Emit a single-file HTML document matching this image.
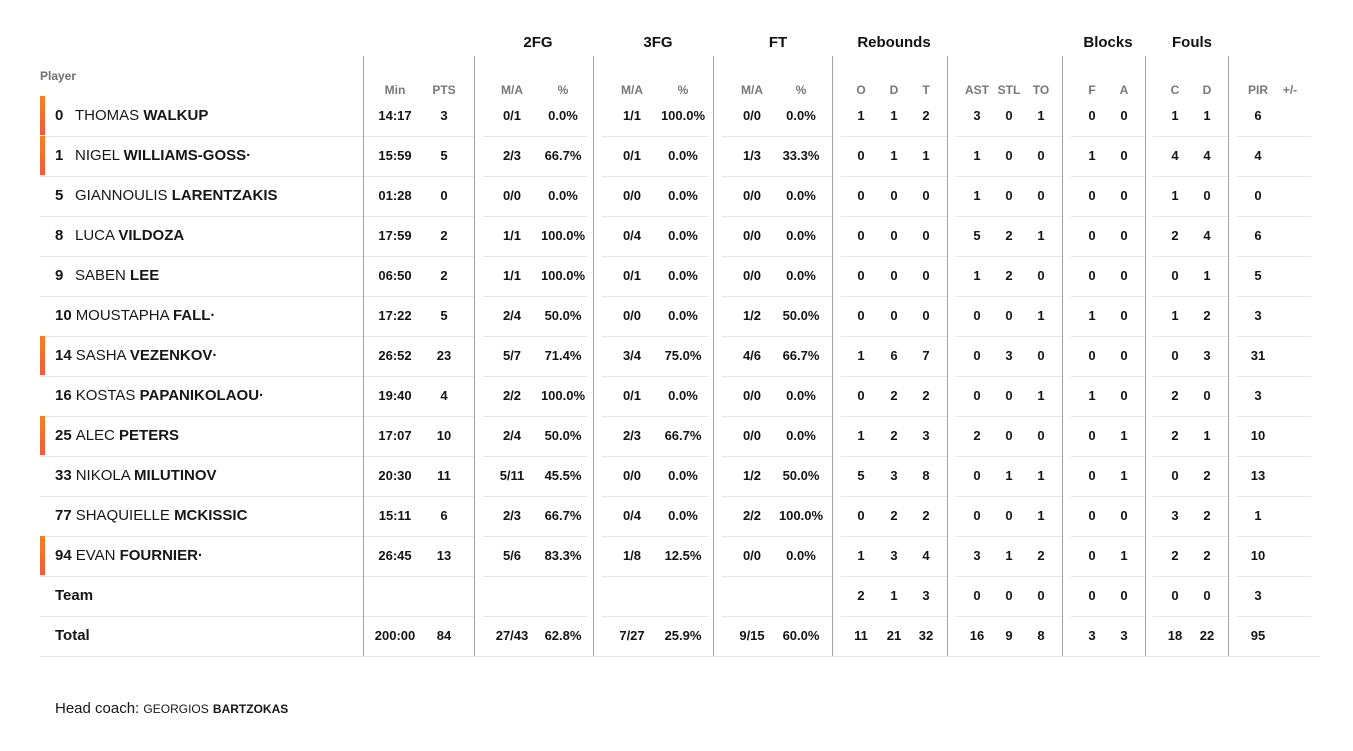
<!DOCTYPE html>
<html><head><meta charset="utf-8">
<style>
html,body{margin:0;padding:0;background:#fff;}
body{width:1353px;height:751px;position:relative;overflow:hidden;font-family:"Liberation Sans",Arial,sans-serif;color:#141414;}
.t{position:absolute;font-weight:bold;font-size:15px;line-height:20px;top:33px;width:120px;text-align:center;color:#111;}
.h{position:absolute;top:82px;line-height:16px;font-size:12px;font-weight:bold;color:#777;width:60px;text-align:center;}
.pl{position:absolute;left:40px;top:68px;line-height:16px;font-size:12px;font-weight:bold;color:#6e6e6e;}
.v{position:absolute;top:56px;height:600px;width:1px;background:#a3a3a3;}
.g{position:absolute;top:97px;height:560px;background-image:linear-gradient(to bottom,transparent 39px,#e6e6e6 39px);background-size:100% 40px;background-repeat:repeat-y;}
.bl{position:absolute;left:40px;width:1280px;top:656px;height:1px;background:#e6e6e6;}
.r{position:absolute;left:0;width:1353px;height:40px;line-height:40px;}
.r span{position:absolute;top:0;width:60px;text-align:center;font-weight:bold;font-size:13px;color:#141414;}
.r span.nm{left:55px;width:auto;text-align:left;font-weight:normal;font-size:15px;color:#161616;}
.r span.nm b{display:inline-block;min-width:16px;margin-right:4px;}
.r span.nm.tb{font-weight:bold;}
.r.s::before{content:"";position:absolute;left:40px;top:0;width:5px;height:39px;background:linear-gradient(to bottom,#f6821f,#ee5b40);}
.r span:nth-child(2){left:365px}
.r span:nth-child(3){left:414px}
.r span:nth-child(4){left:482px}
.r span:nth-child(5){left:533px}
.r span:nth-child(6){left:602px}
.r span:nth-child(7){left:653px}
.r span:nth-child(8){left:722px}
.r span:nth-child(9){left:771px}
.r span:nth-child(10){left:831px}
.r span:nth-child(11){left:864px}
.r span:nth-child(12){left:896px}
.r span:nth-child(13){left:947px}
.r span:nth-child(14){left:979px}
.r span:nth-child(15){left:1011px}
.r span:nth-child(16){left:1062px}
.r span:nth-child(17){left:1094px}
.r span:nth-child(18){left:1145px}
.r span:nth-child(19){left:1177px}
.r span:nth-child(20){left:1228px}
.r span:nth-child(21){left:1260px}
.coach{position:absolute;left:55px;top:699px;line-height:20px;font-size:15px;color:#161616;}
.coach small{font-size:12px;}
</style></head><body>

<div class="t" style="left:478px">2FG</div>
<div class="t" style="left:598px">3FG</div>
<div class="t" style="left:718px">FT</div>
<div class="t" style="left:834px">Rebounds</div>
<div class="t" style="left:1048px">Blocks</div>
<div class="t" style="left:1132px">Fouls</div>

<div class="pl">Player</div>
<div class="h" style="left:365px">Min</div>
<div class="h" style="left:414px">PTS</div>
<div class="h" style="left:482px">M/A</div>
<div class="h" style="left:533px">%</div>
<div class="h" style="left:602px">M/A</div>
<div class="h" style="left:653px">%</div>
<div class="h" style="left:722px">M/A</div>
<div class="h" style="left:771px">%</div>
<div class="h" style="left:831px">O</div>
<div class="h" style="left:864px">D</div>
<div class="h" style="left:896px">T</div>
<div class="h" style="left:947px">AST</div>
<div class="h" style="left:979px">STL</div>
<div class="h" style="left:1011px">TO</div>
<div class="h" style="left:1062px">F</div>
<div class="h" style="left:1094px">A</div>
<div class="h" style="left:1145px">C</div>
<div class="h" style="left:1177px">D</div>
<div class="h" style="left:1228px">PIR</div>
<div class="h" style="left:1260px">+/-</div>

<div class="g" style="left:40px;width:434px"></div>
<div class="g" style="left:483px;width:104px"></div>
<div class="g" style="left:602px;width:106px"></div>
<div class="g" style="left:722px;width:110px"></div>
<div class="g" style="left:841px;width:106px"></div>
<div class="g" style="left:956px;width:106px"></div>
<div class="g" style="left:1071px;width:74px"></div>
<div class="g" style="left:1153px;width:75px"></div>
<div class="g" style="left:1237px;width:74px"></div>
<div class="bl"></div>

<div class="v" style="left:363px"></div>
<div class="v" style="left:474px"></div>
<div class="v" style="left:593px"></div>
<div class="v" style="left:713px"></div>
<div class="v" style="left:832px"></div>
<div class="v" style="left:947px"></div>
<div class="v" style="left:1062px"></div>
<div class="v" style="left:1145px"></div>
<div class="v" style="left:1228px"></div>

<div class="r s" style="top:96px"><span class="nm"><b>0</b>THOMAS <b>WALKUP</b></span><span>14:17</span><span>3</span><span>0/1</span><span>0.0%</span><span>1/1</span><span>100.0%</span><span>0/0</span><span>0.0%</span><span>1</span><span>1</span><span>2</span><span>3</span><span>0</span><span>1</span><span>0</span><span>0</span><span>1</span><span>1</span><span>6</span><span></span></div>
<div class="r s" style="top:136px"><span class="nm"><b>1</b>NIGEL <b>WILLIAMS-GOSS·</b></span><span>15:59</span><span>5</span><span>2/3</span><span>66.7%</span><span>0/1</span><span>0.0%</span><span>1/3</span><span>33.3%</span><span>0</span><span>1</span><span>1</span><span>1</span><span>0</span><span>0</span><span>1</span><span>0</span><span>4</span><span>4</span><span>4</span><span></span></div>
<div class="r" style="top:176px"><span class="nm"><b>5</b>GIANNOULIS <b>LARENTZAKIS</b></span><span>01:28</span><span>0</span><span>0/0</span><span>0.0%</span><span>0/0</span><span>0.0%</span><span>0/0</span><span>0.0%</span><span>0</span><span>0</span><span>0</span><span>1</span><span>0</span><span>0</span><span>0</span><span>0</span><span>1</span><span>0</span><span>0</span><span></span></div>
<div class="r" style="top:216px"><span class="nm"><b>8</b>LUCA <b>VILDOZA</b></span><span>17:59</span><span>2</span><span>1/1</span><span>100.0%</span><span>0/4</span><span>0.0%</span><span>0/0</span><span>0.0%</span><span>0</span><span>0</span><span>0</span><span>5</span><span>2</span><span>1</span><span>0</span><span>0</span><span>2</span><span>4</span><span>6</span><span></span></div>
<div class="r" style="top:256px"><span class="nm"><b>9</b>SABEN <b>LEE</b></span><span>06:50</span><span>2</span><span>1/1</span><span>100.0%</span><span>0/1</span><span>0.0%</span><span>0/0</span><span>0.0%</span><span>0</span><span>0</span><span>0</span><span>1</span><span>2</span><span>0</span><span>0</span><span>0</span><span>0</span><span>1</span><span>5</span><span></span></div>
<div class="r" style="top:296px"><span class="nm"><b>10</b>MOUSTAPHA <b>FALL·</b></span><span>17:22</span><span>5</span><span>2/4</span><span>50.0%</span><span>0/0</span><span>0.0%</span><span>1/2</span><span>50.0%</span><span>0</span><span>0</span><span>0</span><span>0</span><span>0</span><span>1</span><span>1</span><span>0</span><span>1</span><span>2</span><span>3</span><span></span></div>
<div class="r s" style="top:336px"><span class="nm"><b>14</b>SASHA <b>VEZENKOV·</b></span><span>26:52</span><span>23</span><span>5/7</span><span>71.4%</span><span>3/4</span><span>75.0%</span><span>4/6</span><span>66.7%</span><span>1</span><span>6</span><span>7</span><span>0</span><span>3</span><span>0</span><span>0</span><span>0</span><span>0</span><span>3</span><span>31</span><span></span></div>
<div class="r" style="top:376px"><span class="nm"><b>16</b>KOSTAS <b>PAPANIKOLAOU·</b></span><span>19:40</span><span>4</span><span>2/2</span><span>100.0%</span><span>0/1</span><span>0.0%</span><span>0/0</span><span>0.0%</span><span>0</span><span>2</span><span>2</span><span>0</span><span>0</span><span>1</span><span>1</span><span>0</span><span>2</span><span>0</span><span>3</span><span></span></div>
<div class="r s" style="top:416px"><span class="nm"><b>25</b>ALEC <b>PETERS</b></span><span>17:07</span><span>10</span><span>2/4</span><span>50.0%</span><span>2/3</span><span>66.7%</span><span>0/0</span><span>0.0%</span><span>1</span><span>2</span><span>3</span><span>2</span><span>0</span><span>0</span><span>0</span><span>1</span><span>2</span><span>1</span><span>10</span><span></span></div>
<div class="r" style="top:456px"><span class="nm"><b>33</b>NIKOLA <b>MILUTINOV</b></span><span>20:30</span><span>11</span><span>5/11</span><span>45.5%</span><span>0/0</span><span>0.0%</span><span>1/2</span><span>50.0%</span><span>5</span><span>3</span><span>8</span><span>0</span><span>1</span><span>1</span><span>0</span><span>1</span><span>0</span><span>2</span><span>13</span><span></span></div>
<div class="r" style="top:496px"><span class="nm"><b>77</b>SHAQUIELLE <b>MCKISSIC</b></span><span>15:11</span><span>6</span><span>2/3</span><span>66.7%</span><span>0/4</span><span>0.0%</span><span>2/2</span><span>100.0%</span><span>0</span><span>2</span><span>2</span><span>0</span><span>0</span><span>1</span><span>0</span><span>0</span><span>3</span><span>2</span><span>1</span><span></span></div>
<div class="r s" style="top:536px"><span class="nm"><b>94</b>EVAN <b>FOURNIER·</b></span><span>26:45</span><span>13</span><span>5/6</span><span>83.3%</span><span>1/8</span><span>12.5%</span><span>0/0</span><span>0.0%</span><span>1</span><span>3</span><span>4</span><span>3</span><span>1</span><span>2</span><span>0</span><span>1</span><span>2</span><span>2</span><span>10</span><span></span></div>
<div class="r" style="top:576px"><span class="nm tb">Team</span><span></span><span></span><span></span><span></span><span></span><span></span><span></span><span></span><span>2</span><span>1</span><span>3</span><span>0</span><span>0</span><span>0</span><span>0</span><span>0</span><span>0</span><span>0</span><span>3</span><span></span></div>
<div class="r" style="top:616px"><span class="nm tb">Total</span><span>200:00</span><span>84</span><span>27/43</span><span>62.8%</span><span>7/27</span><span>25.9%</span><span>9/15</span><span>60.0%</span><span>11</span><span>21</span><span>32</span><span>16</span><span>9</span><span>8</span><span>3</span><span>3</span><span>18</span><span>22</span><span>95</span><span></span></div>

<div class="coach">Head coach: <small>GEORGIOS</small> <small><b>BARTZOKAS</b></small></div>
</body></html>
